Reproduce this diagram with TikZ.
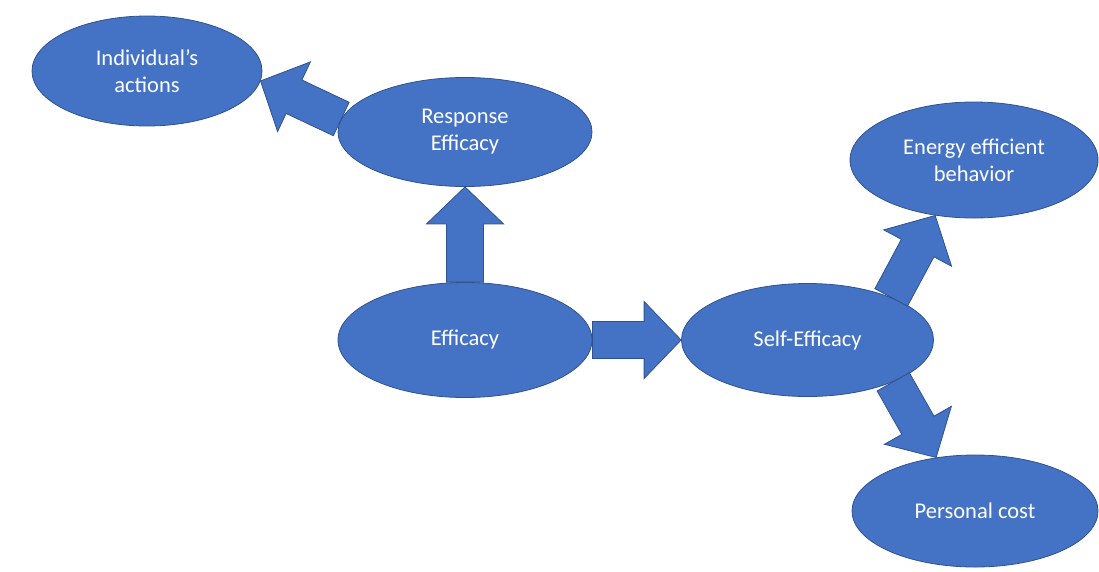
\documentclass[tikz,border=0pt]{standalone}
\usepackage{fontspec}
\setmainfont{Carlito}
\usetikzlibrary{shapes.geometric,calc}
\definecolor{ofill}{HTML}{4472C4}
\definecolor{oline}{HTML}{2F528F}
\tikzset{
  bubble/.style={ellipse, draw=oline, fill=ofill, line width=0.8pt, inner sep=0pt,
    text=white, align=center, font=\fontsize{22.5}{27}\selectfont},
  blockfill/.style={draw=oline, fill=ofill, line width=0.8pt, line join=miter},
}
\newcommand{\blockarrow}[2]{%
  \coordinate (ba-s) at (#1);
  \coordinate (ba-t) at (#2);
  \coordinate (ba-h) at ($(ba-t)!37pt!(ba-s)$);
  \path[blockfill] ($(ba-s)!18.5pt!90:(ba-t)$) -- ($(ba-h)!18.5pt!90:(ba-t)$)
    -- ($(ba-h)!38.5pt!90:(ba-t)$) -- (ba-t) -- ($(ba-h)!38.5pt!-90:(ba-t)$)
    -- ($(ba-h)!18.5pt!-90:(ba-t)$) -- ($(ba-s)!18.5pt!-90:(ba-t)$) -- cycle;%
}
\begin{document}
\begin{tikzpicture}[x=1pt,y=-1pt]
\useasboundingbox (0,0) rectangle (1099,571);
\node[bubble, minimum width=230pt, minimum height=110pt] (ind) at (147,71) {Individual’s\\actions};
\node[bubble, minimum width=254pt, minimum height=109pt] (resp) at (465,132) {Response\\Efficacy};
\node[bubble, minimum width=254pt, minimum height=115pt] (eff) at (465,340) {Efficacy};
\node[bubble, minimum width=252pt, minimum height=113pt] (self) at (807.5,340) {Self-Efficacy};
\node[bubble, minimum width=248pt, minimum height=116pt] (energy) at (974,160) {Energy efficient\\behavior};
\node[bubble, minimum width=246pt, minimum height=112pt] (cost) at (975,511) {Personal cost};
\blockarrow{eff.north}{resp.south}
\blockarrow{eff.east}{self.west}
\blockarrow{resp.174}{ind.-5}
\blockarrow{self.27}{energy.235}
\blockarrow{self.-26}{cost.126}
\end{tikzpicture}
\end{document}
